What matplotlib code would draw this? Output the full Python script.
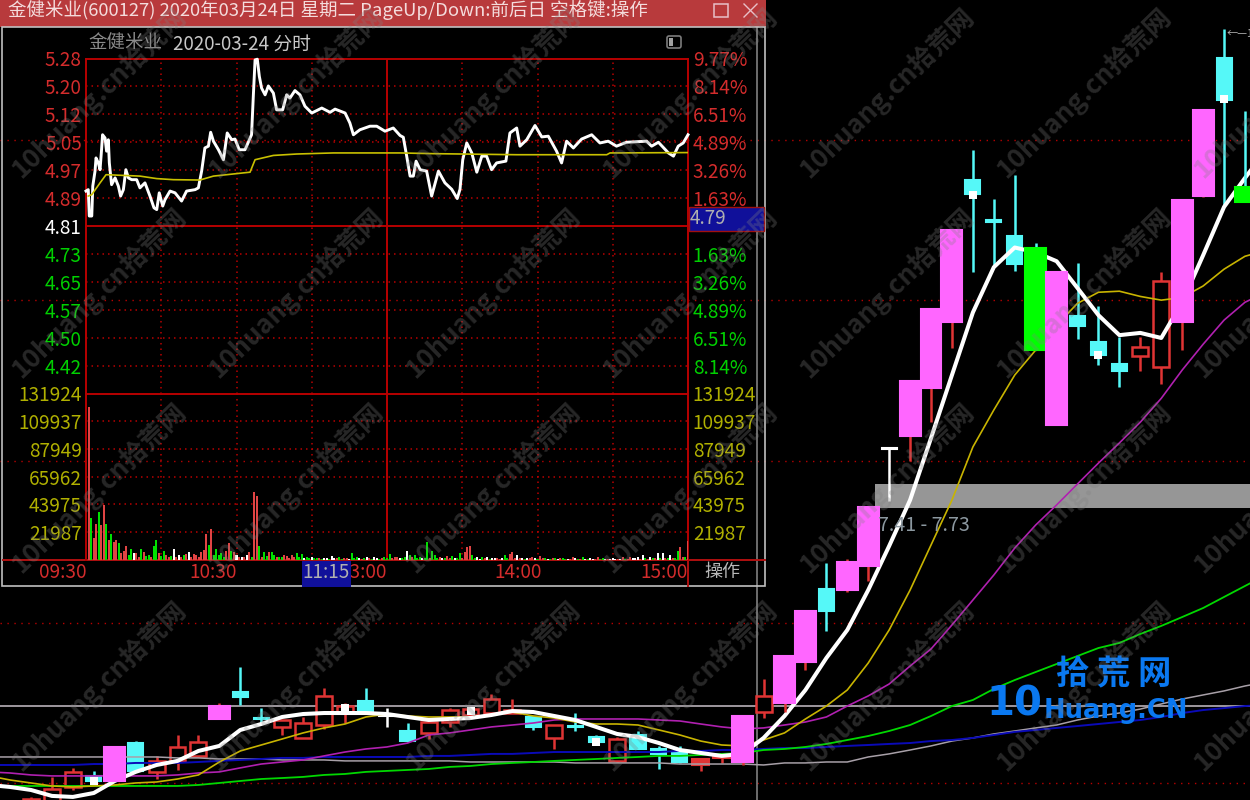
import numpy as np
import matplotlib
matplotlib.use('Agg')
import matplotlib.pyplot as plt
from matplotlib.patches import Rectangle, FancyBboxPatch

plt.rcParams['font.family'] = ['Noto Sans CJK SC', 'DejaVu Sans']

# ---- daily candles (K line), index 0..58
kinds = ['r','r','r','c','p','c','r','r','r','p','c','c','r','r','r','r','c','w','c','r',
         'r','r','r','r','c','r','c','c','r','c','c','c','s','s','p','r','p','p','c','p',
         'p','w','p','p','p','c','c','c','g','p','c','c','c','r','r','p','p','c','g']
opens = [4.39,4.41,4.53,4.619,4.578,4.895,4.652,4.743,4.785,5.107,5.356,5.116,5.036,4.939,5.053,5.170,5.272,5.143,5.000,4.983,
         5.080,5.143,5.161,5.161,5.125,4.939,5.044,4.947,4.743,4.965,4.844,4.818,4.709,4.768,4.734,5.170,5.253,5.647,6.422,6.411,
         6.688,8.22,8.412,9.156,10.28,13.21,12.31,11.98,11.73,8.577,10.39,9.93,9.55,9.69,9.50,10.28,12.84,16.38,13.05]
closes = [4.435,4.514,4.652,4.578,4.861,4.66,4.743,4.861,4.904,5.225,5.309,5.107,5.098,5.071,5.319,5.225,5.170,5.134,4.912,5.080,
          5.188,5.197,5.290,5.188,5.036,5.053,5.036,4.904,4.930,4.844,4.802,4.734,4.759,4.793,5.134,5.319,5.707,6.178,6.178,6.735,
          7.423,8.24,9.268,10.52,12.09,12.89,12.27,11.39,9.789,11.23,10.21,9.70,9.43,9.84,11.05,12.75,14.94,15.21,12.70]
highs = [4.45,4.61,4.685,4.66,4.861,4.912,4.785,4.965,4.965,5.253,5.597,5.206,5.098,5.125,5.394,5.253,5.394,5.206,5.071,5.08,
         5.206,5.206,5.337,5.29,5.125,5.053,5.161,4.965,4.947,5.0,4.870,4.870,4.759,4.793,5.134,5.48,5.707,6.178,6.724,6.771,
         7.423,8.25,9.268,10.52,12.09,13.92,12.78,13.32,11.82,11.23,11.41,10.58,10.02,10.02,11.23,12.75,14.94,17.23,14.91]
lows = [4.39,4.41,4.506,4.554,4.578,4.66,4.594,4.668,4.785,5.107,5.234,5.071,4.965,4.939,5.018,5.071,5.170,5.036,4.904,4.93,
        5.036,5.125,5.161,5.161,5.009,4.844,5.0,4.878,4.734,4.844,4.676,4.726,4.66,4.726,4.709,5.116,5.17,5.568,5.964,6.389,
        6.513,7.5,8.049,8.62,9.82,11.23,11.37,11.25,9.789,8.577,9.98,9.53,9.17,9.43,9.22,9.79,12.82,12.64,12.70]
tag_idx = [3, 15, 21, 27, 45, 51, 57]
tag_price = [4.578, 5.206, 5.179, 4.904, 12.87, 9.70, 15.24]

# moving averages, first value belongs to index -2
ma_white = [4.546,4.530,4.506,4.459,4.451,4.482,4.578,4.652,4.709,4.743,4.827,4.870,5.009,5.062,5.125,5.152,5.161,5.161,5.161,5.152,
            5.125,5.098,5.107,5.116,5.143,5.179,5.170,5.134,5.098,5.036,4.974,4.947,4.895,4.835,4.810,4.785,4.802,4.939,5.134,5.375,
            5.687,5.975,6.411,6.929,7.514,8.382,9.367,10.46,11.33,11.73,11.63,11.45,10.92,10.41,10.05,10.09,10.00,10.65,11.57,12.60,13.26,13.92]
ma_yellow = [4.619,4.586,4.562,4.538,4.530,4.538,4.546,4.562,4.570,4.594,4.627,4.734,4.827,4.878,4.930,4.983,5.027,5.062,5.125,5.152,
             5.134,5.125,5.125,5.125,5.143,5.170,5.134,5.116,5.080,5.062,5.062,5.053,5.009,4.965,4.912,4.878,4.870,4.921,4.983,5.107,
             5.225,5.375,5.637,5.975,6.411,6.941,7.514,8.251,8.807,9.367,9.789,10.23,10.63,10.84,10.86,10.76,10.69,10.74,10.96,11.29,11.55,11.67]
ma_purple = [4.652,4.643,4.627,4.619,4.619,4.619,4.619,4.619,4.619,4.627,4.643,4.652,4.685,4.717,4.734,4.751,4.785,4.818,4.844,4.861,
             4.895,4.965,4.983,5.009,5.036,5.053,5.071,5.098,5.107,5.107,5.107,5.107,5.098,5.089,5.062,5.036,5.018,5.027,5.053,5.080,
             5.125,5.225,5.319,5.432,5.607,5.778,6.028,6.299,6.583,6.904,7.190,7.449,7.73,8.02,8.31,8.62,8.99,9.45,9.89,10.32,10.65,10.84]
ma_green = [4.538,4.538,4.538,4.538,4.538,4.538,4.538,4.538,4.538,4.538,4.546,4.562,4.578,4.594,4.602,4.611,4.627,4.635,4.652,4.660,
            4.668,4.676,4.693,4.701,4.717,4.726,4.734,4.743,4.751,4.759,4.768,4.776,4.785,4.785,4.793,4.802,4.810,4.835,4.844,4.861,
            4.887,4.921,4.956,5.000,5.053,5.134,5.225,5.281,5.385,5.470,5.548,5.627,5.707,5.788,5.840,5.933,6.018,6.113,6.211,6.333,6.457,6.583]
ma_gray = [4.776,4.776,4.776,4.776,4.776,4.776,4.776,4.776,4.776,4.768,4.768,4.759,4.759,4.759,4.751,4.751,4.751,4.743,4.743,4.743,
           4.743,4.743,4.743,4.734,4.734,4.734,4.734,4.734,4.726,4.726,4.726,4.726,4.726,4.717,4.717,4.717,4.717,4.709,4.726,4.726,
           4.734,4.734,4.776,4.802,4.835,4.870,4.912,4.939,4.974,5.000,5.027,5.053,5.098,5.134,5.161,5.197,5.244,5.290,5.328,5.366,5.413,5.451]
ma_blue = [4.709,4.709,4.709,4.709,4.709,4.717,4.717,4.726,4.726,4.726,4.734,4.743,4.751,4.759,4.768,4.768,4.776,4.776,4.776,4.776,
           4.776,4.785,4.785,4.793,4.802,4.802,4.810,4.818,4.818,4.818,4.818,4.818,4.818,4.827,4.827,4.835,4.835,4.844,4.852,4.852,
           4.861,4.870,4.878,4.887,4.895,4.912,4.921,4.939,4.965,4.992,5.009,5.027,5.044,5.062,5.080,5.098,5.125,5.161,5.188,5.206,5.225,5.234]

grid_prices = [14.17, 10.69, 8.049, 6.049, 4.562]
line_price = 5.225
gap_low, gap_high = 7.41, 7.73
cross_index = 34.7

# ---- intraday window
line_minutes = [0,.9,1.3,2.3,2.7,3.6,4,4.9,5.6,6.2,6.6,7.6,8.2,8.9,9.3,10.2,11.6,12.9,13.8,14.9,15.9,16.9,18.2,20.2,21.5,23.5,25.5,27.1,28.2,29.2,
                30.6,31.5,33.5,35.5,38.1,40.1,43.5,44.8,46.1,47.4,48.8,49.7,50.8,52.8,54.8,56.3,58.1,59.4,61.1,63.4,66,66.7,67.4,68.3,69.1,70,71.4,72.7,74.7,76,
                78.4,80,81.3,83.3,85.3,87.3,90,94,97.3,99.3,103.3,105.2,106.6,109.2,113.2,115.9,119.2,122.5,125.2,126.5,127.8,129.2,130.5,131.6,133.2,135.8,137.8,140.5,143.1,145.8,
                148,149.1,150.2,151.8,153.8,155.8,157.8,159.7,161.7,163.7,167.4,169,171.7,173,175.7,179,181.7,184.3,187.6,189.6,191.6,194.3,197.6,201.6,204.9,208.2,211.5,215.5,223.5,225.5,
                228.2,232.2,234.2,236.1,238.1,240]
line_prices = [4.908,4.912,4.838,4.838,4.922,4.964,5.001,4.987,4.968,5.024,5.066,5.057,5.020,5.052,4.987,4.926,4.945,4.922,4.894,4.912,4.968,4.945,4.940,4.940,4.917,4.931,4.894,4.861,4.856,4.903,
               4.866,4.884,4.908,4.903,4.880,4.908,4.912,4.917,4.964,5.029,5.034,5.073,5.048,5.024,4.996,5.071,5.052,5.054,5.024,5.024,5.066,5.174,5.276,5.278,5.230,5.197,5.178,5.203,5.183,5.136,
               5.136,5.178,5.169,5.190,5.178,5.146,5.127,5.141,5.129,5.138,5.127,5.099,5.066,5.080,5.090,5.090,5.076,5.085,5.064,5.059,5.008,4.950,4.950,4.992,4.968,4.964,4.894,4.964,4.931,4.913,
               4.887,4.913,4.996,5.043,5.015,4.961,5.006,5.006,4.968,4.987,4.992,5.071,5.085,5.034,5.052,5.092,5.060,5.062,5.020,4.987,5.048,5.029,5.054,5.066,5.043,5.048,5.034,5.045,5.048,5.034,
               5.045,5.015,5.006,5.034,5.043,5.066]
avg_minutes = [.9,2.3,5.6,8,21.5,28.2,34.8,45.4,50.8,65.4,67.4,74.7,84,98.6,125.2,138.5,171.7,207.6,208.9,240]
avg_prices = [4.894,4.898,4.931,4.954,4.950,4.943,4.940,4.939,4.950,4.961,4.996,5.008,5.012,5.015,5.015,5.013,5.010,5.010,5.015,5.016]

vol_minutes = [1,2,3,4,5,6,7,8,9,10,11,12,13,15,16,18,19,20,22,23,25,27,28,29,31,32,35,37,38,40,41,43,44,46,47,48,49,50,52,53,54,56,57,58,59,60,62,64,65,67,68,69,71,73,74,75,77,79,80,82,83,84,86,88,90,92,95,98,101,103,106,108,112,115,119,121,123,124,
               128,129,131,133,136,138,139,141,144,146,149,151,152,153,154,156,158,160,162,164,167,169,170,172,173,176,178,181,183,187,190,194,198,201,204,206,210,214,217,220,222,225,228,230,233,236,237,240]
vol_values = [121500,32900,17100,28900,38100,27600,43400,28900,15800,20500,14500,15800,13150,7400,11000,8700,5300,5300,8700,6600,3900,11000,15800,5300,7100,3900,8900,3900,2600,4700,6000,4700,3900,6000,7900,20500,11800,24200,8700,3900,5300,7400,13700,7400,6000,3900,2600,3900,6600,53900,50500,11000,6000,6600,6000,3900,2100,3900,3400,3900,2600,5800,4700,2100,2600,1300,1300,3200,2100,1800,5300,2600,2600,2100,2600,4700,2100,2600,
              7100,3900,3900,2600,14500,7400,3900,2600,3200,3200,5300,6600,10500,11000,3900,2600,2100,2600,1800,1800,3900,4700,6000,3900,1800,1800,2600,3200,1800,1800,1800,2600,2100,1800,2600,1800,1800,2600,2600,2600,3900,2600,5300,5300,3900,7100,10000,15000]
vol_colors = ('rgrrgrrgrgrrg' 'rrgwrgrgggrgr' 'wwrrwrrrrrgrg' 'ggrrgrwwwrrrg' 'grgggrrrrgggw'
              'gwwgrggwwggrr' 'w' 'ggggggrrggrrr' 'gwgwwrgrrwrwr' 'rgggrgwrgwrrw' 'wwwwwgrrw')
# small bars filling the quiet minutes
vol_extra_minutes = [14,17,21,24,26,30,33,34,36,39,42,45,51,55,61,63,66,70,72,76,78,81,85,87,89,91,93,94,96,97,99,100,102,104,105,107,109,110,111,113,114,116,117,118,120,122,125,126,127,130,
                     132,134,135,137,140,142,143,145,147,148,150,155,157,159,161,163,165,166,168,171,174,175,177,179,180,182,184,185,186,188,189,191,192,193,195,196,197,199,200,202,203,205,207,208,209,211,212,213,215,216,218,219,221,223,224,226,227,229,231,232,234,235,238,239]
vol_extra_values = [5300,3900,2600,3200,2600,3200,2600,3200,2600,3900,2600,2600,3900,2600,2100,2600,2100,2600,3200,2600,2100,1800,2100,1800,1300,1300,1300,1000,1300,1000,1300,1300,1000,1300,1000,1300,1300,1000,1300,1300,1000,1300,1000,1300,1300,1300,1300,1800,2600,2100,
                    1800,1300,1800,1300,1800,1300,1300,1300,1800,1800,1300,1800,1000,1300,1000,1300,1000,1300,1300,1800,1300,1000,1300,1300,1000,1300,1000,1000,1300,1000,1300,1000,1000,1000,1300,1000,1000,1000,1000,1000,1000,1000,1000,1000,1000,1000,1000,1000,1000,1000,1300,1300,1000,1300,1000,1300,1300,1800,1800,1300,1800,1300,2600,2600]
vol_extra_colors = ('rgrgrgrgrgrrggrrgrgrgrgwggrgwgwrgrwgwrgrgwgrgrwgg'
                    'rgwgrgwgrwgrgwrgwrwgrwgrwgrwgrwrgwrwgrwgwrgwrwwrwgrwwrgrg')

price_left = ['5.28','5.20','5.12','5.05','4.97','4.89','4.81','4.73','4.65','4.57','4.50','4.42']
pct_up = ['9.77%','8.14%','6.51%','4.89%','3.26%','1.63%']
pct_down = ['1.63%','3.26%','4.89%','6.51%','8.14%']
vol_ticks = [131924, 109937, 87949, 65962, 43975, 21987]
time_ticks = [0, 60, 120, 181.5, 240]
time_labels = ['09:30', '10:30', '13:00', '14:00', '15:00']
pre_close = 4.81
price_top = 5.28
price_step = (price_top - pre_close) / 6

RED = '#e03434'
TXT_RED = '#d42c2c'
TXT_GREEN = '#00d000'
TXT_VOL = '#b0b000'
PINK = '#ff66ff'
CYAN = '#55f8f8'
LIME = '#00ff00'
GRID = '#b80000'
LABEL_SIZE = 13.7
body_colors = {'r': 'black', 's': RED, 'p': PINK, 'c': CYAN, 'g': LIME, 'w': 'white'}
edge_colors = {'r': RED, 's': RED, 'p': PINK, 'c': CYAN, 'g': LIME, 'w': 'white'}
wick_colors = {'r': RED, 's': RED, 'p': RED, 'c': CYAN, 'g': CYAN, 'w': 'white'}
body_width = {'r': 0.76, 's': 0.8, 'p': 1.0, 'c': 0.72, 'g': 1.0, 'w': 0.72}


def frac(x0, y0, x1, y1):
    return [x0 / 1250, 1 - y1 / 800, (x1 - x0) / 1250, (y1 - y0) / 800]


fig = plt.figure(figsize=(12.5, 8), dpi=100, facecolor='black')

# ---- main K line
ax = fig.add_axes([0, 0, 1, 1], facecolor='black')
ax.set_yscale('log')
ax.set_xlim(-1.481, 58.24)
ax.set_ylim(4.427, 18.15)
ax.axis('off')

for p in grid_prices:
    ax.axhline(p, color=GRID, lw=1, ls=(0, (1, 4)), zorder=1)
ax.axhline(line_price, color='#c8c0c8', lw=1.1, zorder=1.5)
ax.axvline(cross_index, color='#808080', lw=1.2, zorder=2)
ax.fill_between([40.3, 58.24], gap_low, gap_high, color='#969696', lw=0, zorder=2)
ax.text(40.45, 7.19, f'{gap_low} - {gap_high}', color='#8c98a0', fontsize=14.2, va='center', zorder=6)

for i, k in enumerate(kinds):
    top = max(opens[i], closes[i])
    bottom = min(opens[i], closes[i])
    z = 5 if k in 'pg' else 3
    ax.vlines(i, lows[i], highs[i], color=wick_colors[k], lw=1.8, zorder=z)
    ax.bar(i, top - bottom, bottom=bottom, width=body_width[k], color=body_colors[k],
           edgecolor=edge_colors[k], lw=1.8 if k == 'r' else 1.5, zorder=z + 0.1)
ax.scatter(tag_idx, tag_price, marker='s', s=30, color='white', lw=0, zorder=4.5)

ma_series = [(ma_gray, '#a8a0a8', 1.1), (ma_blue, '#0a0ab8', 1.4), (ma_green, '#00d800', 1.3),
             (ma_purple, '#b020b0', 1.2), (ma_yellow, '#c8b400', 1.2), (ma_white, 'white', 2.9)]
for vals, col, width in ma_series:
    ax.plot(np.arange(len(vals)) - 2, vals, color=col, lw=width, zorder=4)
ax.text(57.1, 17.1, '←\u20141', color='#b0b0b0', fontsize=8, va='center', zorder=6)

# logo
LOGO = '#0a78f0'
ax.text(1114 / 1250, 1 - 675 / 800, '拾 荒 网', transform=ax.transAxes, color=LOGO, fontsize=24,
        fontweight='bold', ha='center', va='center', zorder=7)
ax.text(1014 / 1250, 1 - 704 / 800, '10', transform=ax.transAxes, color=LOGO, fontsize=29,
        fontweight='bold', ha='center', va='center', zorder=7, family='DejaVu Sans')
ax.text(1116 / 1250, 1 - 711 / 800, 'Huang.CN', transform=ax.transAxes, color=LOGO, fontsize=18.6,
        fontweight='bold', ha='center', va='center', zorder=7, family='DejaVu Sans')

# ---- window chrome
win = fig.add_axes(frac(0, 0, 766, 587), facecolor='black', zorder=2)
win.set_xlim(0, 766)
win.set_ylim(587, 0)
win.axis('off')
win.add_patch(Rectangle((0, 0), 766, 27, color='#b83a3c', lw=0))
win.add_patch(Rectangle((1.5, 27), 763.5, 559, fill=False, edgecolor='#c0c0c0', lw=1.2))
win.text(8, 10.5, '金健米业(600127) 2020年03月24日 星期二 PageUp/Down:前后日 空格键:操作',
         color='#f4dcdc', fontsize=13.3, va='center')
win.text(88, 44, '金健米业', color='#8a8a8a', fontsize=13.3, va='center')
win.text(173, 44, '2020-03-24 分时', color='#c8c8c8', fontsize=13.5, va='center')
win.add_patch(FancyBboxPatch((667, 36), 14, 12, boxstyle='round,pad=0,rounding_size=2', fill=False,
                             edgecolor='#7c7c7c', lw=1.2))
win.add_patch(Rectangle((669, 38), 4, 8, color='#a0a0a0', lw=0))
win.add_patch(Rectangle((714, 4), 14, 13, fill=False, edgecolor='#e8c0c8', lw=1.1))
win.plot([744, 757], [4, 17], color='#e8c0c8', lw=1)
win.plot([744, 757], [17, 4], color='#e8c0c8', lw=1)
win.add_patch(Rectangle((689, 207), 75, 24, facecolor='#10109a', edgecolor='#a01010', lw=1))
win.text(690, 219, '4.79', color='#b0b0b0', fontsize=13.5, va='center')
win.plot([3, 765], [560, 560], color='#b01010', lw=1.4)
win.plot([688, 688], [560, 587], color='#b01010', lw=1.4)
win.text(722, 572, '操作', color='#b8b8b8', fontsize=13, ha='center', va='center')

# ---- intraday price
ax_p = fig.add_axes(frac(86, 58.5, 688, 393.5), facecolor='none', zorder=3)
ax_p.set_xlim(0, 240)
ax_p.set_ylim(price_top - 12 * price_step, price_top)
ax_p.axis('off')
ax_v = fig.add_axes(frac(86, 393.5, 688, 560), facecolor='none', zorder=3)
ax_v.set_xlim(0, 240)
ax_v.set_ylim(0, vol_ticks[0])
ax_v.axis('off')

for m in range(30, 240, 30):
    for a in (ax_p, ax_v):
        if m == 120:
            a.axvline(m, color=GRID, lw=1.4, zorder=1)
        else:
            a.axvline(m, color=GRID, lw=1.1, ls=(0, (1, 2.6)), zorder=1)
for a in (ax_p, ax_v):
    a.axvline(0, color=GRID, lw=1.4, zorder=1, clip_on=False)
    a.axvline(240, color=GRID, lw=1.4, zorder=1, clip_on=False)

for k in range(13):
    level = price_top - k * price_step
    if k in (0, 6, 12):
        ax_p.axhline(level, color=GRID, lw=1.4, zorder=1, clip_on=False)
    else:
        ax_p.axhline(level, color=GRID, lw=1.1, ls=(0, (1, 2.6)), zorder=1)

trans_p = ax_p.get_yaxis_transform()
for k, label in enumerate(price_left):
    level = price_top - k * price_step
    col = TXT_RED if k < 6 else ('white' if k == 6 else TXT_GREEN)
    ax_p.text(-0.007, level, label, transform=trans_p, color=col, fontsize=LABEL_SIZE, ha='right', va='center_baseline')
for k, label in enumerate(pct_up):
    ax_p.text(1.008, price_top - k * price_step, label, transform=trans_p, color=TXT_RED, fontsize=LABEL_SIZE, va='center_baseline')
for k, label in enumerate(pct_down):
    ax_p.text(1.008, pre_close - (k + 1) * price_step, label, transform=trans_p, color=TXT_GREEN, fontsize=LABEL_SIZE, va='center_baseline')

ax_p.plot(line_minutes, line_prices, color='white', lw=2.1, zorder=3, clip_on=False)
ax_p.plot(avg_minutes, avg_prices, color='#c8c000', lw=1.2, zorder=4)

# ---- intraday volume
vol_cmap = {'r': '#e04444', 'g': '#00e000', 'w': 'white'}
ax_v.bar(vol_extra_minutes, vol_extra_values, width=0.8, lw=0, zorder=3,
         color=[vol_cmap[c] for c in vol_extra_colors[:len(vol_extra_minutes)]])
ax_v.bar(vol_minutes, vol_values, width=0.8, lw=0, zorder=3,
         color=[vol_cmap[c] for c in vol_colors[:len(vol_minutes)]])
for v in vol_ticks[1:]:
    ax_v.axhline(v, color=GRID, lw=1.1, ls=(0, (1, 2.6)), zorder=1)
trans_v = ax_v.get_yaxis_transform()
for v in vol_ticks:
    ax_v.text(-0.007, v, str(v), transform=trans_v, color=TXT_VOL, fontsize=LABEL_SIZE, ha='right', va='center_baseline')
    ax_v.text(1.008, v, str(v), transform=trans_v, color=TXT_VOL, fontsize=LABEL_SIZE, va='center_baseline')
for m, label in zip(time_ticks, time_labels):
    ax_v.annotate(label, (m, 0), xytext=(0, -9), textcoords='offset points', color=TXT_RED, fontsize=LABEL_SIZE,
                  ha='right', va='center', annotation_clip=False)
# blue cursor box sits on top of the 13:00 label
ax_v.add_patch(Rectangle((302, 561), 49, 25.5, transform=win.transData, facecolor='#10109a', lw=0, clip_on=False, zorder=8))
ax_v.text(326.5, 573, '11:15', transform=win.transData, color='#b0b0b0', fontsize=LABEL_SIZE, ha='center', va='center',
          clip_on=False, zorder=9)

# ---- watermark
for row_y in (179, 379, 574, 772):
    for col_x in (22, 219, 416, 613, 810, 1007, 1204):
        fig.text(col_x / 1250, 1 - row_y / 800, '10huang.cn拾荒网', color='#808080', alpha=0.3, fontsize=19,
                 fontweight='bold', rotation=44, rotation_mode='anchor', ha='left', va='baseline', zorder=10)

fig.savefig('out.png', dpi=100, facecolor='black')
